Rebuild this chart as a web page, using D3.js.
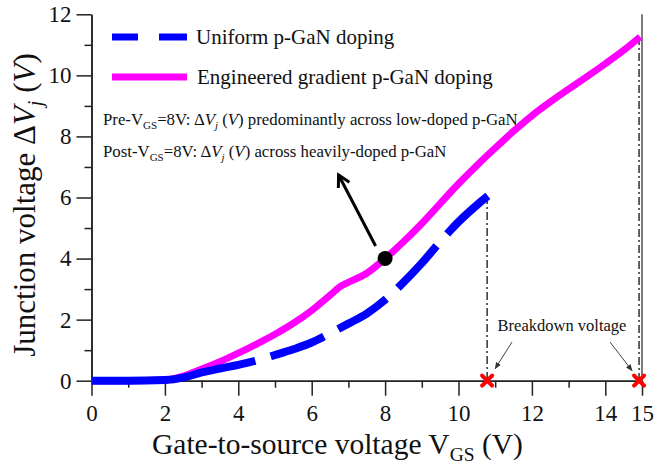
<!DOCTYPE html>
<html><head><meta charset="utf-8">
<script src="https://cdn.jsdelivr.net/npm/d3@7"></script>
<style>
body{margin:0;background:#fff}
svg{display:block;font-family:"Liberation Serif","Times New Roman",Times,serif}
</style>
</head><body>
<svg id="chart" width="655" height="468"></svg>
<script>
// Junction voltage vs gate-to-source voltage
const vgsUniform = [0,1,2,2.5,3,3.5,4,4.5,5,5.5,6,6.5,7,7.5,8,8.5,9,9.5,10,10.5,10.8];
const djUniform  = [0,0,0.02,0.1,0.27,0.4,0.52,0.66,0.84,1.03,1.25,1.55,1.87,2.2,2.65,3.22,3.85,4.55,5.2,5.75,6.05];
const vgsGradient = [0,1,2,2.5,3,3.5,4,4.5,5,5.5,6,6.5,6.8,7,7.5,8,8.5,9,9.5,10,10.5,11,11.5,12,12.5,13,13.5,14,14.5,14.95];
const djGradient  = [0,0,0.02,0.15,0.38,0.62,0.9,1.2,1.52,1.88,2.3,2.8,3.1,3.22,3.52,4.0,4.55,5.15,5.8,6.45,7.05,7.62,8.17,8.68,9.13,9.55,9.96,10.38,10.82,11.26];
const breakdownVgs = [10.78, 14.92];
const breakdownDj  = [6.05, 11.26];
const pivot = [8, 4];
const xMajorTicks = [0,2,4,6,8,10,12,14,15];
const xMinorTicks = [1,3,5,7,9,11,13];
const yMajorTicks = [0,2,4,6,8,10,12];
const yMinorTicks = [1,3,5,7,9,11];
const legendLabels = ["Uniform p-GaN doping", "Engineered gradient p-GaN doping"];

const BLUE = "#0000ff", PINK = "#ff00ff";
const svg = d3.select("#chart");
const x = d3.scaleLinear().domain([0, 15]).range([91.5, 642]);
const y = d3.scaleLinear().domain([0, 12]).range([380.7, 14.3]);

// axes
const axisColor = "#222";
function styleAxis(g){
  g.selectAll("path.domain").attr("stroke", axisColor).attr("stroke-width", 1.5);
  g.selectAll(".tick line").attr("stroke", axisColor).attr("stroke-width", 1.5);
  g.selectAll(".tick text").attr("fill", "#111").attr("font-size", 23)
    .attr("font-family", '"Liberation Serif","Times New Roman",serif');
}
const gx = svg.append("g").attr("transform", `translate(0,${y(0)})`)
  .call(d3.axisBottom(x).tickValues(xMajorTicks).tickSize(15).tickSizeOuter(0).tickPadding(9).tickFormat(d3.format("d")));
styleAxis(gx);
const gxm = svg.append("g").attr("transform", `translate(0,${y(0)})`)
  .call(d3.axisBottom(x).tickValues(xMinorTicks).tickSize(7).tickSizeOuter(0).tickFormat(""));
styleAxis(gxm);
const gy = svg.append("g").attr("transform", `translate(${x(0)},0)`)
  .call(d3.axisLeft(y).tickValues(yMajorTicks).tickSize(15).tickSizeOuter(0).tickPadding(5).tickFormat(d3.format("d")));
styleAxis(gy);
const gym = svg.append("g").attr("transform", `translate(${x(0)},0)`)
  .call(d3.axisLeft(y).tickValues(yMinorTicks).tickSize(7).tickSizeOuter(0).tickFormat(""));
styleAxis(gym);
// right frame edge
svg.append("line").attr("x1", x(15)).attr("x2", x(15)).attr("y1", y(12)).attr("y2", y(0))
  .attr("stroke", axisColor).attr("stroke-width", 1.2);

// axis titles
const xt = svg.append("text").attr("x", 152).attr("y", 454).attr("font-size", 29.5).attr("fill", "#111");
xt.append("tspan").text("Gate-to-source voltage V");
xt.append("tspan").attr("font-size", 19.5).attr("dy", 7).text("GS");
xt.append("tspan").attr("dy", -7).text(" (V)");

const yt = svg.append("text").attr("transform", "translate(35,205) rotate(-90)")
  .attr("text-anchor", "middle").attr("font-size", 31).attr("fill", "#111");
yt.append("tspan").text("Junction voltage \u0394");
yt.append("tspan").attr("font-style", "italic").text("V");
yt.append("tspan").attr("font-style", "italic").attr("font-size", 20).attr("dy", 7).text("j");
yt.append("tspan").attr("dy", -7).text(" (");
yt.append("tspan").attr("font-style", "italic").text("V");
yt.append("tspan").text(")");

// dash-dot guides from curve ends down to breakdown points
breakdownVgs.forEach((v, i) => {
  svg.append("line").attr("x1", x(v)).attr("x2", x(v)).attr("y1", y(breakdownDj[i])).attr("y2", y(0))
    .attr("stroke", "#111").attr("stroke-width", 1.3).attr("stroke-dasharray", "8,3,2,3");
});

// curves
const line = d3.line().x(d => x(d[0])).y(d => y(d[1])).curve(d3.curveMonotoneX);
const gradientPts = vgsGradient.map((v, i) => [v, djGradient[i]]);
const uniformPts = vgsUniform.map((v, i) => [v, djUniform[i]]);

svg.append("path").attr("d", line(gradientPts)).attr("fill", "none")
  .attr("stroke", PINK).attr("stroke-width", 7);

const bluePath = svg.append("path").attr("d", line(uniformPts)).attr("fill", "none")
  .attr("stroke", BLUE).attr("stroke-width", 8);
// long leading dash along the flat part, then regular dashes
{
  const node = bluePath.node();
  const total = node.getTotalLength();
  let first = 0;
  while (first < total && node.getPointAtLength(first).x < x(4.46)) first += 0.5;
  const dashes = [first, 16];
  let acc = first + 16;
  while (acc < total + 80) { dashes.push(57, 16); acc += 73; }
  bluePath.attr("stroke-dasharray", dashes.join(","));
}

// breakdown markers
breakdownVgs.forEach(v => {
  const g = svg.append("g").attr("transform", `translate(${x(v)},${y(0)})`);
  [[-5,-5,5,5],[-5,5,5,-5]].forEach(s => g.append("line")
    .attr("x1", s[0]).attr("y1", s[1]).attr("x2", s[2]).attr("y2", s[3])
    .attr("stroke", "#ff0000").attr("stroke-width", 4).attr("stroke-linecap", "round"));
});

// pivot dot and arrow
svg.append("circle").attr("cx", x(pivot[0])).attr("cy", y(pivot[1])).attr("r", 7.5).attr("fill", "#000");
{
  const x0 = x(pivot[0]) - 9.5, y0 = y(pivot[1]) - 12.5;
  const x1 = x0 - 37, y1 = y0 - 71;
  svg.append("line").attr("x1", x0).attr("y1", y0).attr("x2", x1).attr("y2", y1)
    .attr("stroke", "#000").attr("stroke-width", 3);
  const ang = Math.atan2(y0 - y1, x0 - x1), L = 13, spread = 0.5;
  const pts = [
    [x1 + L * Math.cos(ang + spread), y1 + L * Math.sin(ang + spread)],
    [x1, y1],
    [x1 + L * Math.cos(ang - spread), y1 + L * Math.sin(ang - spread)]
  ];
  svg.append("path").attr("d", d3.line()(pts)).attr("fill", "none")
    .attr("stroke", "#000").attr("stroke-width", 3).attr("stroke-linejoin", "miter");
}

// annotation text
function annot(yPos, prefix, rest){
  const t = svg.append("text").attr("x", 103).attr("y", yPos).attr("font-size", 16.8).attr("fill", "#111");
  t.append("tspan").text(prefix + "-V");
  t.append("tspan").attr("font-size", 11).attr("dy", 4).text("GS");
  t.append("tspan").attr("dy", -4).text("=8V:\u2009\u0394");
  t.append("tspan").attr("font-style", "italic").text("V");
  t.append("tspan").attr("font-style", "italic").attr("font-size", 11).attr("dy", 4).text("j");
  t.append("tspan").attr("dy", -4).text(" (");
  t.append("tspan").attr("font-style", "italic").text("V");
  t.append("tspan").text(") " + rest);
}
annot(125, "Pre", "predominantly across low-doped p-GaN");
annot(157, "Post", "across heavily-doped p-GaN");

// breakdown label with pointers
svg.append("text").attr("x", 562).attr("y", 331).attr("text-anchor", "middle")
  .attr("font-size", 16.5).attr("fill", "#111").text("Breakdown voltage");
svg.append("defs").append("marker").attr("id", "tri").attr("viewBox", "0 0 10 10")
  .attr("refX", 9).attr("refY", 5).attr("markerWidth", 7).attr("markerHeight", 7)
  .attr("orient", "auto").append("path").attr("d", "M0,1L10,5L0,9Z").attr("fill", "#333");
[[512, 342, x(breakdownVgs[0]) + 8, y(0) - 12], [610, 342, x(breakdownVgs[1]) - 7, y(0) - 10]].forEach(a => {
  svg.append("line").attr("x1", a[0]).attr("y1", a[1]).attr("x2", a[2]).attr("y2", a[3])
    .attr("stroke", "#444").attr("stroke-width", 1).attr("marker-end", "url(#tri)");
});

// legend
const lg = svg.append("g");
[[112, 138], [159, 187]].forEach(s => lg.append("line").attr("x1", s[0]).attr("x2", s[1])
  .attr("y1", 37).attr("y2", 37).attr("stroke", BLUE).attr("stroke-width", 7));
lg.append("line").attr("x1", 112).attr("x2", 187).attr("y1", 77).attr("y2", 77)
  .attr("stroke", PINK).attr("stroke-width", 7);
lg.append("text").attr("x", 196).attr("y", 44).attr("font-size", 21).attr("fill", "#111").text(legendLabels[0]);
lg.append("text").attr("x", 197).attr("y", 84).attr("font-size", 21).attr("fill", "#111").text(legendLabels[1]);
</script>
</body></html>
